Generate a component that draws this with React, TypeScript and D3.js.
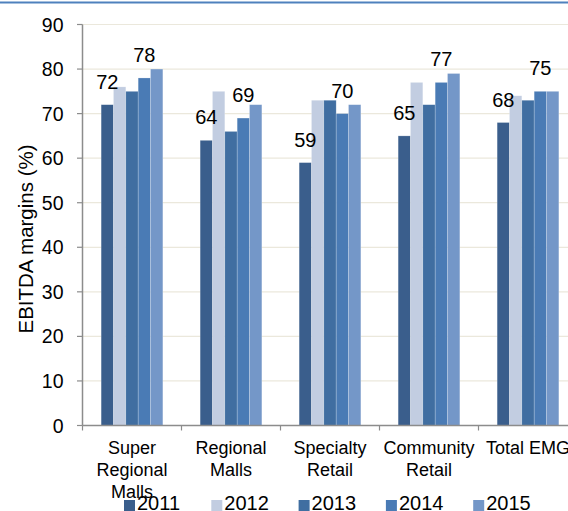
import React, { useRef, useEffect } from 'react';
import * as d3 from 'd3';

// categories and yearly EBITDA margins (%)
const categories = ['Super Regional Malls', 'Regional Malls', 'Specialty Retail', 'Community Retail', 'Total EMG'];
const categoryLines = [['Super', 'Regional', 'Malls'], ['Regional', 'Malls'], ['Specialty', 'Retail'], ['Community', 'Retail'], ['Total EMG']];
const years = ['2011', '2012', '2013', '2014', '2015'];
const v2011 = [72, 64, 59, 65, 68];
const v2012 = [76, 75, 73, 77, 74];
const v2013 = [75, 66, 73, 72, 73];
const v2014 = [78, 69, 70, 77, 75];
const v2015 = [80, 72, 72, 79, 75];
const yTicks = [0, 10, 20, 30, 40, 50, 60, 70, 80, 90];
const labelledYears = ['2011', '2014'];

const colors = ['#3a5e8c', '#c2cde1', '#406ea1', '#4a7bb5', '#7497c8'];
const FONT = 'Liberation Sans, Arial, sans-serif';

const App = () => {
  const ref = useRef<SVGSVGElement>(null);

  useEffect(() => {
    const svg = d3.select(ref.current);
    svg.selectAll('*').remove();

    const W = 568;
    const series = [v2011, v2012, v2013, v2014, v2015];

    const x0 = d3.scaleBand().domain(categories).range([82.5, 577.5]).padding(0);
    const x1 = d3.scaleBand().domain(years).range([0, x0.bandwidth()]).paddingInner(0).paddingOuter(1.51);
    const y = d3.scaleLinear().domain([0, 90]).range([425.5, 24.5]);

    // top rule
    svg.append('rect').attr('x', 0).attr('y', 1.5).attr('width', W).attr('height', 2).attr('fill', '#4f81bd');

    // gridlines
    svg.append('g').selectAll('line').data(yTicks.filter(t => t > 0)).enter().append('line')
      .attr('x1', 82.5).attr('x2', W).attr('y1', d => y(d)).attr('y2', d => y(d))
      .attr('stroke', '#ebe8dc').attr('stroke-width', 1.2);

    // bars
    const groups = svg.append('g').selectAll('g').data(categories).enter().append('g')
      .attr('transform', d => `translate(${x0(d)},0)`);
    groups.selectAll('rect').data((c, ci) => years.map((yr, si) => ({ yr, si, v: series[si][ci] })))
      .enter().append('rect')
      .attr('x', d => x1(d.yr)!)
      .attr('y', d => y(d.v))
      .attr('width', x1.bandwidth())
      .attr('height', d => y(0) - y(d.v))
      .attr('fill', d => colors[d.si])
      .attr('stroke', 'rgba(255,255,255,0.35)').attr('stroke-width', 0.6);

    // value labels
    groups.selectAll('text').data((c, ci) => labelledYears.map(yr => {
      const si = years.indexOf(yr);
      return { yr, v: series[si][ci] };
    })).enter().append('text')
      .attr('x', d => x1(d.yr)! + x1.bandwidth() / 2)
      .attr('y', d => y(d.v) - 16)
      .attr('text-anchor', 'middle')
      .attr('font-family', FONT).attr('font-size', 20).attr('fill', '#000')
      .text(d => d.v);

    // axes
    const axisColor = '#8c8c8c';
    svg.append('line').attr('x1', 82.5).attr('x2', 82.5).attr('y1', y(90)).attr('y2', y(0))
      .attr('stroke', axisColor).attr('stroke-width', 1.5);
    svg.append('line').attr('x1', 82.5).attr('x2', W).attr('y1', y(0)).attr('y2', y(0))
      .attr('stroke', axisColor).attr('stroke-width', 1.5);

    const yAxis = svg.append('g');
    yAxis.selectAll('line').data(yTicks).enter().append('line')
      .attr('x1', 77).attr('x2', 82.5).attr('y1', d => y(d)).attr('y2', d => y(d))
      .attr('stroke', axisColor).attr('stroke-width', 1.2);
    yAxis.selectAll('text').data(yTicks).enter().append('text')
      .attr('x', 63.5).attr('y', d => y(d)).attr('dy', '0.36em')
      .attr('text-anchor', 'end')
      .attr('font-family', FONT).attr('font-size', 19.5).attr('fill', '#000')
      .text(d => d);

    const bounds = categories.map(c => x0(c)!).concat([x0(categories[categories.length - 1])! + x0.bandwidth()]);
    svg.append('g').selectAll('line').data(bounds).enter().append('line')
      .attr('x1', d => d).attr('x2', d => d).attr('y1', y(0)).attr('y2', y(0) + 5)
      .attr('stroke', axisColor).attr('stroke-width', 1.2);

    // category labels
    const cl = svg.append('g').selectAll('text').data(categories).enter().append('text')
      .attr('font-family', FONT).attr('font-size', 18).attr('fill', '#000')
      .attr('text-anchor', 'middle');
    cl.each(function (c, i) {
      const t = d3.select(this);
      categoryLines[i].forEach((ln, li) => {
        t.append('tspan').attr('x', x0(c)! + x0.bandwidth() / 2).attr('y', 454 + li * 21.8).text(ln);
      });
    });

    // y title
    svg.append('text')
      .attr('transform', `translate(33,239) rotate(-90)`)
      .attr('text-anchor', 'middle')
      .attr('font-family', FONT).attr('font-size', 20.5).attr('fill', '#000')
      .text('EBITDA margins (%)');

    // legend
    const legend = svg.append('g').selectAll('g').data(years).enter().append('g')
      .attr('transform', (d, i) => `translate(${124 + i * 87.3},0)`);
    legend.append('rect').attr('x', 0).attr('y', 500).attr('width', 11).attr('height', 11)
      .attr('fill', (d, i) => colors[i]);
    legend.append('text').attr('x', 13).attr('y', 509.5)
      .attr('font-family', FONT).attr('font-size', 20).attr('fill', '#000')
      .text(d => d);
  }, []);

  return (
    <svg ref={ref} width={568} height={511}
      style={{ position: 'absolute', left: 0, top: 0, display: 'block', background: '#fff' }} />
  );
};

export default App;
